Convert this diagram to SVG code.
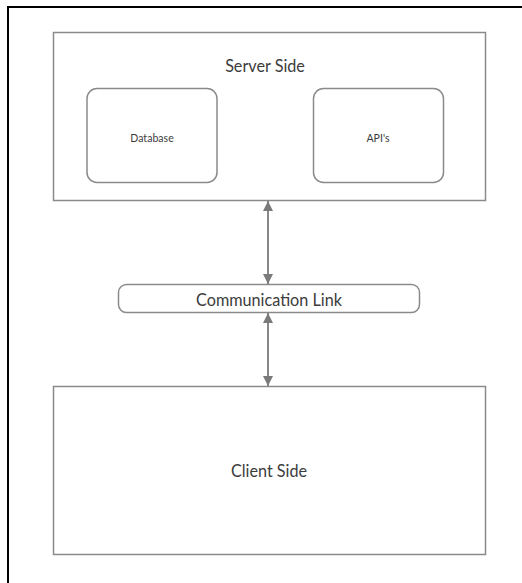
<svg xmlns="http://www.w3.org/2000/svg" width="522" height="583" viewBox="0 0 522 583">
<style>
.box{fill:#fff;stroke:#8a8a8a;stroke-width:1.5}
.t{font-family:Lato,"Liberation Sans",sans-serif;fill:#3c3c3c;text-anchor:middle;dominant-baseline:central}
.conn{stroke:#888;stroke-width:2;fill:none}
</style>
<defs>
<marker id="ah" viewBox="0 0 10 10" refX="10" refY="5" markerWidth="5" markerHeight="5" orient="auto-start-reverse" markerUnits="strokeWidth">
<path d="M0,0 L10,5 L0,10 z" fill="#7a7a7a"/>
</marker>
</defs>
<rect width="522" height="583" fill="#fff"/>
<g id="frame"><path d="M8,583 V7 H522" fill="none" stroke="#000" stroke-width="2"/></g>
<g id="server">
<rect class="box" x="53.5" y="32.5" width="432" height="168"/>
<text class="t" transform="translate(265,65) scale(0.9,1)" font-size="18">Server Side</text>
</g>
<g id="database">
<rect class="box" x="87" y="88.5" width="130" height="94" rx="10"/>
<text class="t" transform="translate(152,137) scale(0.88,1)" font-size="12">Database</text>
</g>
<g id="apis">
<rect class="box" x="313.5" y="88.5" width="130" height="94" rx="10"/>
<text class="t" transform="translate(378,137) scale(0.88,1)" font-size="12">API's</text>
</g>
<g id="comm">
<rect class="box" x="118.5" y="284.5" width="301" height="28" rx="8"/>
<text class="t" transform="translate(269,299) scale(0.9,1)" font-size="18">Communication Link</text>
</g>
<g id="client">
<rect class="box" x="53.5" y="386.5" width="432" height="168"/>
<text class="t" transform="translate(269,470) scale(0.9,1)" font-size="18">Client Side</text>
</g>
<g id="connectors">
<line class="conn" x1="268" y1="201" x2="268" y2="284" marker-start="url(#ah)" marker-end="url(#ah)"/>
<line class="conn" x1="268" y1="313" x2="268" y2="386" marker-start="url(#ah)" marker-end="url(#ah)"/>
</g>
</svg>
